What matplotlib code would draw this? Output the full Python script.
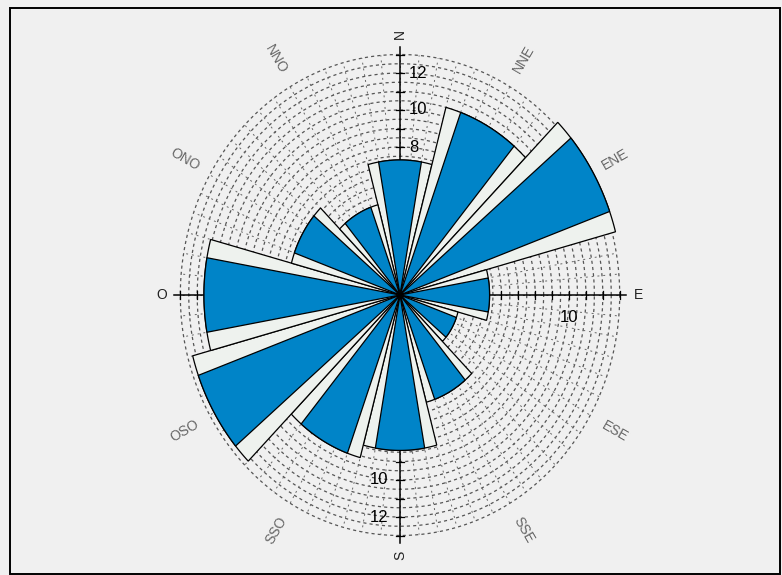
import numpy as np
import matplotlib
matplotlib.use('Agg')
import matplotlib.pyplot as plt
from matplotlib.patches import Polygon, Rectangle

# wind rose data (12 sectors, clockwise from north)
directions = ['N', 'NNE', 'ENE', 'E', 'ESE', 'SSE', 'S', 'SSO', 'OSO', 'O', 'ONO', 'NNO']
bearings = [0, 30, 60, 90, 120, 150, 180, 210, 240, 270, 300, 330]
values = [7.3, 10.5, 13.2, 5.3, 3.55, 6.0, 8.4, 9.1, 12.7, 11.6, 6.65, 5.05]

# radial labels drawn along the axes
n_labels = [8, 10, 12]
s_labels = [10, 12]
e_labels = [10]

W, H = 782, 575
cx, cy = 400, 295          # centre in pixels
sx, sy = 16.9, 18.5        # pixels per unit
r_axis = 13.4

fig = plt.figure(figsize=(W / 100, H / 100), dpi=100)
fig.patch.set_facecolor('#f0f0f0')
ax = fig.add_axes([0, 0, 1, 1])
ax.set_xlim(-cx / sx, (W - cx) / sx)
ax.set_ylim(-(H - cy) / sy, cy / sy)
ax.axis('off')

# dashed grid: rings every 0.5 and short spokes
t = np.linspace(0, 2 * np.pi, 900)
for r in np.arange(0.5, 13.01, 0.5):
    ax.plot(r * np.cos(t), r * np.sin(t), color='#555555', lw=0.9,
            ls=(0, (2.5, 2.5)), zorder=1)
for a in np.radians(np.arange(0, 360, 5)):
    ax.plot([0, 13 * np.cos(a)], [0, 13 * np.sin(a)], color='#666666',
            lw=0.7, ls=(0, (2, 4)), zorder=1)

# main axes with ticks
ax.plot([-r_axis, r_axis], [0, 0], color='k', lw=1.1, zorder=2)
ax.plot([0, 0], [-r_axis, r_axis], color='k', lw=1.1, zorder=2)
for k in np.arange(1, 13.5, 1):
    for s in (1, -1):
        ax.plot([-4 / sx, 4 / sx], [s * k, s * k], color='k', lw=0.9, zorder=2)
        ax.plot([s * k, s * k], [-4 / sy, 4 / sy], color='k', lw=0.9, zorder=2)


def wedge(theta_c, half, r, color):
    a = np.radians(np.linspace(theta_c - half, theta_c + half, 40))
    xs = np.concatenate([[0], r * np.cos(a)])
    ys = np.concatenate([[0], r * np.sin(a)])
    ax.add_patch(Polygon(np.column_stack([xs, ys]), closed=True,
                         facecolor=color, edgecolor='k', lw=0.9, zorder=3))


for b, v in zip(bearings, values):
    th = 90 - b
    wedge(th, 15, v, '#eef2ee')
    wedge(th, 10, v, '#0084c8')

# radial value labels
for v in n_labels:
    ax.text(9 / sx, v, str(v), ha='left', va='center', fontsize=12,
            family='Liberation Sans', zorder=4)
for v in s_labels:
    ax.text(-12 / sx, -v, str(v), ha='right', va='center', fontsize=12,
            family='Liberation Sans', zorder=4)
for v in e_labels:
    ax.text(v, -23 / sy, str(v), ha='center', va='center', fontsize=12,
            family='Liberation Sans', zorder=4)

# direction labels
for d, b in zip(directions, bearings):
    th = 90 - b
    card = len(d) == 1
    r = 14.1 if card else 14.7
    rot = th
    if rot > 90:
        rot -= 180
    elif rot <= -90:
        rot += 180
    ax.text(r * np.cos(np.radians(th)), r * np.sin(np.radians(th)), d,
            rotation=rot, ha='center', va='center', fontsize=10,
            family='Liberation Sans', color='#222222' if card else '#666666')

fig.patches.append(Rectangle((9.5 / W, 1 - 574 / H), 770 / W, 566.5 / H,
                             transform=fig.transFigure, fill=False,
                             edgecolor='k', lw=1.4))

fig.savefig('out.png', dpi=100, facecolor=fig.get_facecolor())
